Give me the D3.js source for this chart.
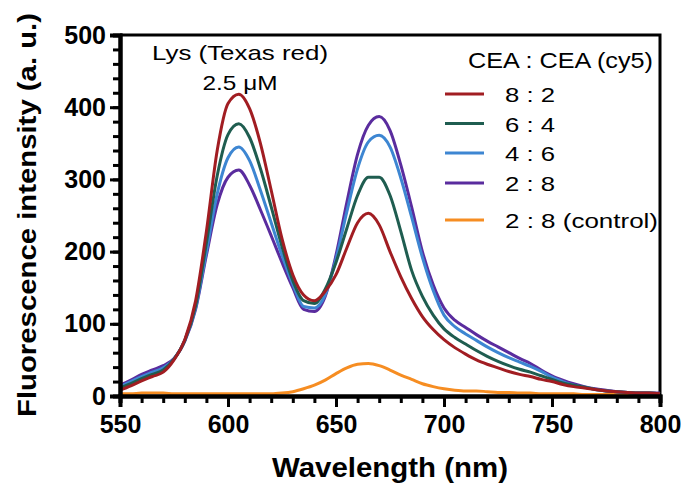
<!DOCTYPE html>
<html>
<head>
<meta charset="utf-8">
<script src="https://cdn.jsdelivr.net/npm/d3@7"></script>
<style>
  body { margin: 0; background: #fff; }
  svg { display: block; font-family: "Liberation Sans", Arial, sans-serif; }
</style>
</head>
<body>
<div id="root"></div>
<script>
// wavelength grid (nm), one sample every 5 nm
const wavelengths = d3.range(550, 805, 5)

const seriesNames = ["8 : 2", "6 : 4", "4 : 6", "2 : 8", "2 : 8 (control)"]
const seriesColors = ["#a11d22", "#1f5d50", "#3d86d2", "#5a2c9e", "#f68d22"]

const red82 = [8, 14, 21, 27, 33, 50, 78, 132, 228, 340, 405, 418, 398, 350, 285, 218, 168, 140, 132, 145,
    168, 205, 240, 253, 237, 200, 165, 135, 110, 92, 78, 67, 58, 50, 44, 39, 34, 30, 27, 23,
    20, 16, 13, 11, 9, 7, 6, 5, 4, 4, 3]
const green64 = [11, 17, 24, 30, 36, 51, 77, 125, 212, 305, 362, 377, 358, 315, 262, 207, 160, 132, 128, 148,
    185, 232, 278, 303, 303, 278, 228, 174, 138, 112, 93, 81, 72, 63, 55, 48, 42, 37, 33, 28,
    23, 18, 15, 12, 9, 7, 6, 5, 4, 4, 3]
const blue46 = [13, 20, 27, 33, 39, 51, 77, 122, 200, 280, 330, 345, 326, 285, 240, 195, 155, 124, 122, 140,
    190, 255, 315, 352, 361, 345, 302, 248, 192, 146, 112, 96, 86, 77, 68, 60, 53, 47, 41, 34,
    26, 20, 15, 12, 9, 7, 6, 5, 4, 4, 3]
const purple28 = [15, 22, 30, 36, 42, 52, 76, 120, 195, 265, 303, 313, 292, 258, 222, 185, 150, 120, 117, 138,
    195, 268, 335, 375, 387, 368, 320, 262, 200, 154, 122, 105, 95, 85, 76, 68, 60, 52, 45, 36,
    28, 22, 17, 13, 10, 8, 6, 5, 4, 4, 4]
const control28 = [3, 3, 4, 4, 4, 3, 3, 3, 3, 3, 3, 3, 3, 3, 3, 4, 6, 10, 15, 22,
    31, 39, 44, 45, 42, 36, 29, 23, 17, 13, 10, 8, 7, 7, 6, 5, 5, 4, 4, 3,
    3, 3, 3, 2, 2, 2, 2, 2, 2, 2, 2]

const xMajor = [550, 600, 650, 700, 750, 800]
const yMajor = [0, 100, 200, 300, 400, 500]

function drawChart() {
    const w = 685, h = 485
    const left = 120, right = 660, top = 35, bottom = 396

    const x = d3.scaleLinear().domain([550, 800]).range([left, right])
    const y = d3.scaleLinear().domain([0, 500]).range([bottom, top])

    const svg = d3.select("#root").append("svg")
        .attr("width", w)
        .attr("height", h)

    const series = [red82, green64, blue46, purple28, control28].map((vals, i) => ({
        name: seriesNames[i],
        color: seriesColors[i],
        values: vals.map((v, j) => [wavelengths[j], v])
    }))

    // frame: top and right
    svg.append("path")
        .attr("d", `M${left},${top}H${right}V${bottom}`)
        .attr("fill", "none")
        .attr("stroke", "#000")
        .attr("stroke-width", 3)

    // curves, control first so 8:2 ends on top
    const line = d3.line()
        .x(d => x(d[0]))
        .y(d => y(d[1]))
        .curve(d3.curveMonotoneX)

    svg.append("g").selectAll("path.curve")
        .data(series.slice().reverse())
        .enter().append("path")
        .attr("class", "curve")
        .attr("d", d => line(d.values))
        .attr("fill", "none")
        .attr("stroke", d => d.color)
        .attr("stroke-width", 3)
        .attr("stroke-linejoin", "round")

    // axes
    const xMinorAxis = d3.axisBottom(x).tickValues(d3.range(550, 801, 10)).tickSize(7).tickFormat("")
    const xAxis = d3.axisBottom(x).tickValues(xMajor).tickSize(11).tickPadding(8)
    const yMinorAxis = d3.axisLeft(y).tickValues(d3.range(0, 501, 20)).tickSize(7).tickFormat("")
    const yAxis = d3.axisLeft(y).tickValues(yMajor).tickSize(10).tickPadding(4)

    const gx = svg.append("g").attr("transform", `translate(0,${bottom})`)
    gx.append("g").call(xMinorAxis)
    gx.append("g").call(xAxis)
    const gy = svg.append("g").attr("transform", `translate(${left},0)`)
    gy.append("g").call(yMinorAxis)
    gy.append("g").call(yAxis)

    svg.selectAll(".domain").attr("stroke-width", 4).attr("stroke", "#000")
    svg.selectAll(".tick line").attr("stroke-width", 3).attr("stroke", "#000")
    svg.selectAll(".tick text")
        .attr("font-family", "'Liberation Sans', Arial, sans-serif")
        .attr("font-size", 25)
        .attr("font-weight", "bold")
        .attr("fill", "#000")

    // axis titles
    svg.append("text")
        .attr("x", 390)
        .attr("y", 477)
        .attr("text-anchor", "middle")
        .attr("font-size", 27)
        .attr("font-weight", "bold")
        .attr("textLength", 236)
        .attr("lengthAdjust", "spacingAndGlyphs")
        .text("Wavelength (nm)")

    svg.append("text")
        .attr("transform", "translate(36,215) rotate(-90)")
        .attr("text-anchor", "middle")
        .attr("font-size", 26)
        .attr("font-weight", "bold")
        .attr("textLength", 404)
        .attr("lengthAdjust", "spacingAndGlyphs")
        .text("Fluorescence intensity (a. u.)")

    // annotation
    svg.append("text")
        .attr("x", 240).attr("y", 60)
        .attr("text-anchor", "middle")
        .attr("font-size", 21)
        .attr("textLength", 176)
        .attr("lengthAdjust", "spacingAndGlyphs")
        .text("Lys (Texas red)")
    svg.append("text")
        .attr("x", 240).attr("y", 90)
        .attr("text-anchor", "middle")
        .attr("font-size", 21)
        .attr("textLength", 75)
        .attr("lengthAdjust", "spacingAndGlyphs")
        .text("2.5 \u03bcM")

    // legend
    svg.append("text")
        .attr("x", 468).attr("y", 68)
        .attr("font-size", 22)
        .attr("textLength", 185)
        .attr("lengthAdjust", "spacingAndGlyphs")
        .text("CEA : CEA (cy5)")

    const legendY = [94, 123.5, 153, 183, 220]
    const legendW = [50, 50, 50, 50, 153]
    const legend = svg.append("g").selectAll("g.item")
        .data(series)
        .enter().append("g")
        .attr("class", "item")
        .attr("transform", (d, i) => `translate(0,${legendY[i]})`)
    legend.append("line")
        .attr("x1", 445).attr("x2", 484)
        .attr("stroke", d => d.color)
        .attr("stroke-width", 3)
    legend.append("text")
        .attr("x", 505)
        .attr("y", 8)
        .attr("font-size", 21)
        .attr("textLength", (d, i) => legendW[i])
        .attr("lengthAdjust", "spacingAndGlyphs")
        .text(d => d.name)
}

drawChart()
</script>
</body>
</html>
